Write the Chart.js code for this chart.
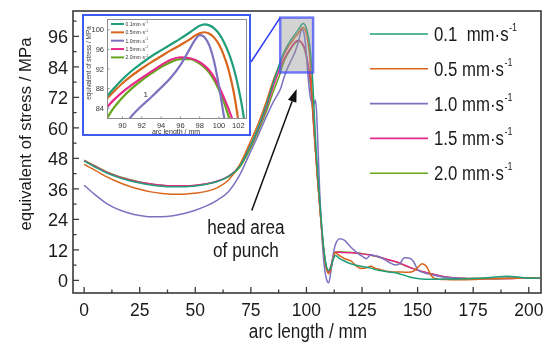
<!DOCTYPE html>
<html><head><meta charset="utf-8">
<script src="https://cdn.jsdelivr.net/npm/chart.js@4.4.1/dist/chart.umd.min.js"></script>
<style>
html,body{margin:0;padding:0;background:#fff;}
#wrap{position:relative;width:550px;height:344px;overflow:hidden;}
#main{position:absolute;left:0;top:0;}
#insetBox{position:absolute;left:82px;top:14px;width:165px;height:118px;border:2px solid #3d5bf2;background:#fff;}
#inset{position:absolute;left:0;top:0;}
</style></head><body>
<div id="wrap">
<canvas id="main" width="550" height="344"></canvas>
<div id="insetBox"><canvas id="inset" width="165" height="118"></canvas></div>
</div>
<script>
// ---------------- data ----------------
const xs = [0,5,10,15,20,25,30,35,40,45,50,55,60,65,70,74,78,82,85,
  88.4,89,90,91,92,93,94,95,96,
  97,97.5,98,98.5,99,99.5,100,100.5,101,101.5,102,102.5,103,103.5,104,104.5,105,
  106,107,108,109,110,111,112,113,
  115,117,120,123,125,127,129,131,133,135,137,140,142,144,146,148,150,152,154,156,158,162,166,170,175,180,185,190,195,200,205];

const s01 = [46.9,44.5,42.3,40.6,39.3,38.3,37.5,37.0,36.8,36.8,37.1,37.8,38.9,40.9,44.8,51.5,59.5,69.0,77.5,
  86.4,87.8,89.9,91.7,93.2,94.6,95.8,97.0,98.2,
  99.5,100.2,100.8,101.1,100.9,100.3,99.2,97.5,95.3,92.3,88.3,83.0,75.0,65.5,57.0,49.5,43.0,
  31.0,20.0,11.0,5.5,3.9,5.0,8.0,9.8,
  8.5,7.6,6.5,5.8,5.4,5.1,4.8,4.2,3.9,3.6,3.3,3.0,2.5,2.0,1.4,1.0,0.7,0.5,0.4,0.4,0.4,0.5,0.5,0.6,0.7,0.9,1.3,1.6,1.3,0.8,0.9];
const s05 = [45.6,43.3,40.8,38.8,37.1,35.8,34.8,34.2,33.9,33.9,34.3,35.0,36.5,39.5,45.5,53.0,61.0,70.5,78.5,
  86.0,87.2,89.1,90.7,92.1,93.4,94.6,95.8,96.9,
  98.1,98.8,99.3,99.5,99.2,98.4,97.0,94.8,91.8,87.5,81.5,74.0,66.0,59.0,52.0,46.0,40.0,
  29.0,18.5,10.0,4.5,2.6,4.5,8.5,10.8,
  9.6,8.6,7.6,5.3,4.6,4.9,5.5,4.7,4.3,3.8,3.5,3.3,3.3,3.2,3.2,3.5,5.0,6.5,5.4,2.0,0.6,0.3,0.2,0.2,0.3,0.5,0.6,0.7,0.8,1.0,1.0];
const s10 = [37.4,33.6,30.3,28.0,26.5,25.5,25.0,25.0,25.4,26.3,27.6,29.3,31.6,35.0,41.5,49.0,56.5,64.5,70.0,
  75.5,77.2,80.0,82.5,84.5,86.3,88.2,90.2,92.8,
  96.2,97.9,98.9,98.5,96.8,93.5,88.5,82.5,77.5,73.5,71.0,69.5,69.0,69.5,71.0,67.0,57.0,
  34.0,17.0,6.0,0.5,-1.0,3.5,10.0,14.0,
  16.4,15.8,13.0,10.7,9.5,8.5,10.1,9.6,9.2,8.2,7.2,6.0,6.5,8.9,8.8,7.6,4.3,3.2,2.7,2.3,1.9,1.2,0.9,0.7,0.6,0.6,0.6,0.7,0.8,0.9,0.9];
const s15 = [47.1,44.8,42.6,40.9,39.6,38.6,37.9,37.4,37.2,37.2,37.4,38.0,39.1,41.0,45.0,51.5,59.0,68.0,76.0,
  84.2,85.5,87.3,88.8,90.2,91.5,92.8,93.9,94.4,
  94.2,93.9,93.4,92.7,91.7,90.3,88.4,86.2,83.8,81.0,77.0,71.5,64.0,58.0,52.0,46.0,40.0,
  29.0,18.5,10.0,4.8,3.3,5.5,9.0,11.1,
  11.0,10.9,10.8,10.6,10.4,10.2,10.0,9.6,9.1,8.6,8.1,7.4,6.8,6.0,5.3,4.6,4.0,3.5,3.0,2.6,2.2,1.4,1.0,0.8,0.7,0.7,0.7,0.7,0.8,0.8,0.9];
const s20 = [47.3,45.0,42.8,41.1,39.8,38.7,37.9,37.4,37.1,37.1,37.3,37.9,39.0,40.8,44.5,50.5,58.0,66.5,74.0,
  82.0,83.8,86.2,88.1,89.7,91.1,92.4,93.4,94.0,
  94.0,93.7,93.1,92.3,91.2,89.7,87.7,85.3,82.3,79.0,75.0,70.0,64.0,58.0,52.0,46.0,40.0,
  29.0,18.5,10.0,4.8,3.3,5.5,9.0,11.1,
  11.2,11.1,11.0,10.8,10.5,10.2,9.9,9.5,9.0,8.5,8.0,7.3,6.6,5.9,5.2,4.6,4.0,3.4,3.0,2.6,2.2,1.4,1.0,0.8,0.7,0.7,0.7,0.8,0.8,0.8,0.9];

const seriesNames = ['0.1  mm·s', '0.5 mm·s', '1.0 mm·s', '1.5 mm·s', '2.0 mm·s'];
const insetNames  = ['0.1mm·s', '0.5mm·s', '1.0mm·s', '1.5mm·s', '2.0mm·s'];
const unitSup = '-1';

const xTicksMain = [0,25,50,75,100,125,150,175,200];
const yTicksMain = [0,12,24,36,48,60,72,84,96];
const xTicksInset = [90,92,94,96,98,100,102];
const yTicksInset = [84,88,92,96,100];
const annotLines = ['head area', 'of punch'];
const insetNote = '1';

// ---------------- styles ----------------
const colors = ['#1f9e7a', '#d9651b', '#7b72c0', '#e7298a', '#66a61e'];
const FONT = '"Liberation Sans", Arial, sans-serif';

function sText(ctx, str, x, y, size, sx, align, color) {
  ctx.save();
  ctx.font = size + 'px ' + FONT;
  ctx.fillStyle = color || '#1a1a1a';
  ctx.textBaseline = 'alphabetic';
  ctx.textAlign = 'left';
  const w = ctx.measureText(str).width * sx;
  const x0 = align === 'center' ? x - w / 2 : (align === 'right' ? x - w : x);
  ctx.translate(x0, y);
  ctx.scale(sx, 1);
  ctx.fillText(str, 0, 0);
  ctx.restore();
  return w;
}

function makeDatasets(width) {
  return [s01, s05, s10, s15, s20].map((arr, i) => ({
    label: seriesNames[i],
    data: xs.map((x, j) => ({ x: x, y: arr[j] })),
    borderColor: colors[i],
    borderWidth: width,
    pointRadius: 0,
    fill: false,
    cubicInterpolationMode: 'monotone'
  }));
}

// ---------------- main chart ----------------
const mainDecor = {
  id: 'mainDecor',
  afterDatasetsDraw(chart) {
    const ctx = chart.ctx, xS = chart.scales.x, yS = chart.scales.y;
    const x1 = xS.getPixelForValue(88.2), x2 = xS.getPixelForValue(103);
    const y1 = yS.getPixelForValue(103.4), y2 = yS.getPixelForValue(81.8);
    ctx.save();
    ctx.fillStyle = 'rgba(150,150,150,0.42)';
    ctx.fillRect(x1, y1, x2 - x1, y2 - y1);
    ctx.strokeStyle = 'rgba(70,80,250,0.75)';
    ctx.lineWidth = 2.5;
    ctx.strokeRect(x1, y1, x2 - x1, y2 - y1);
    ctx.strokeStyle = '#2f3cf0';
    ctx.lineWidth = 1.5;
    ctx.beginPath();
    ctx.moveTo(251, 62);
    ctx.lineTo(x1, y1);
    ctx.stroke();
    ctx.restore();
  },
  afterDraw(chart) {
    const ctx = chart.ctx, xS = chart.scales.x, yS = chart.scales.y, a = chart.chartArea;
    ctx.save();
    ctx.strokeStyle = '#3a3a3a';
    ctx.lineWidth = 1.6;
    ctx.strokeRect(a.left, a.top, a.right - a.left, a.bottom - a.top);
    ctx.lineWidth = 1.3;
    ctx.beginPath();
    xTicksMain.forEach(v => {
      const p = xS.getPixelForValue(v);
      ctx.moveTo(p, a.bottom); ctx.lineTo(p, a.bottom - 6);
      const m = xS.getPixelForValue(v + 12.5);
      if (v + 12.5 < xS.max) { ctx.moveTo(m, a.bottom); ctx.lineTo(m, a.bottom - 3.5); }
    });
    yTicksMain.forEach(v => {
      const p = yS.getPixelForValue(v);
      ctx.moveTo(a.left, p); ctx.lineTo(a.left + 6, p);
      if (v + 6 < yS.max) { const m = yS.getPixelForValue(v + 6); ctx.moveTo(a.left, m); ctx.lineTo(a.left + 3.5, m); }
    });
    ctx.stroke();
    xTicksMain.forEach(v => sText(ctx, String(v), xS.getPixelForValue(v), 316, 19, 0.92, 'center'));
    yTicksMain.forEach(v => sText(ctx, String(v), 68, yS.getPixelForValue(v) + 7, 19, 0.95, 'right'));
    sText(ctx, 'arc length / mm', 308, 338, 19.5, 0.88, 'center');
    ctx.save();
    ctx.translate(31, 134);
    ctx.rotate(-Math.PI / 2);
    sText(ctx, 'equivalent of stress / MPa', 0, 0, 16.8, 1, 'center');
    ctx.restore();
    const ax = xS.getPixelForValue(72.8);
    sText(ctx, annotLines[0], ax, yS.getPixelForValue(18.1), 19.5, 0.88, 'center');
    sText(ctx, annotLines[1], ax, yS.getPixelForValue(9.0), 19.5, 0.88, 'center');
    const sx = xS.getPixelForValue(75.4), sy = yS.getPixelForValue(27.5);
    const tx = xS.getPixelForValue(95.6), ty = yS.getPixelForValue(75.3);
    const ang = Math.atan2(ty - sy, tx - sx);
    const hl = 13, hw = 4.5;
    const bx = tx - hl * Math.cos(ang), by = ty - hl * Math.sin(ang);
    ctx.strokeStyle = '#111'; ctx.fillStyle = '#111'; ctx.lineWidth = 1.5;
    ctx.beginPath(); ctx.moveTo(sx, sy); ctx.lineTo(bx, by); ctx.stroke();
    ctx.beginPath();
    ctx.moveTo(tx, ty);
    ctx.lineTo(bx + hw * Math.sin(ang), by - hw * Math.cos(ang));
    ctx.lineTo(bx - hw * Math.sin(ang), by + hw * Math.cos(ang));
    ctx.closePath(); ctx.fill();
    chart.data.datasets.forEach((ds, i) => {
      const y = 34 + i * 34.8;
      ctx.strokeStyle = ds.borderColor; ctx.lineWidth = 1.6;
      ctx.beginPath(); ctx.moveTo(370, y); ctx.lineTo(428, y); ctx.stroke();
      const w = sText(ctx, ds.label, 434, y + 7, 19.5, 0.86, 'left');
      sText(ctx, unitSup, 434 + w + 0.5, y - 3, 10, 0.9, 'left');
    });
    ctx.restore();
  }
};

new Chart(document.getElementById('main'), {
  type: 'line',
  data: { datasets: makeDatasets(1.5) },
  options: {
    responsive: false,
    animation: false,
    layout: { padding: { left: 0, right: 9, top: 11, bottom: 0 } },
    plugins: { legend: { display: false }, tooltip: { enabled: false } },
    scales: {
      x: {
        type: 'linear', min: -5, max: 205.5,
        afterFit(s) { s.height = 51; },
        afterBuildTicks(s) { s.ticks = xTicksMain.map(v => ({ value: v })); },
        grid: { display: false, drawTicks: false },
        border: { display: false },
        ticks: { display: false }
      },
      y: {
        type: 'linear', min: -5, max: 106,
        afterFit(s) { s.width = 73; },
        afterBuildTicks(s) { s.ticks = yTicksMain.map(v => ({ value: v })); },
        grid: { display: false, drawTicks: false },
        border: { display: false },
        ticks: { display: false }
      }
    }
  },
  plugins: [mainDecor]
});

// ---------------- inset chart ----------------
const insetDecor = {
  id: 'insetDecor',
  afterDraw(chart) {
    const ctx = chart.ctx, xS = chart.scales.x, yS = chart.scales.y, a = chart.chartArea;
    ctx.save();
    ctx.strokeStyle = '#8c8c8c';
    ctx.lineWidth = 1;
    ctx.strokeRect(a.left + 0.5, a.top + 0.5, a.right - a.left - 1, a.bottom - a.top - 1);
    ctx.beginPath();
    xTicksInset.forEach(v => {
      const p = xS.getPixelForValue(v);
      ctx.moveTo(p, a.bottom); ctx.lineTo(p, a.bottom - 2.5);
    });
    yTicksInset.forEach(v => {
      const p = yS.getPixelForValue(v);
      ctx.moveTo(a.left, p); ctx.lineTo(a.left + 2.5, p);
    });
    ctx.stroke();
    xTicksInset.forEach(v => sText(ctx, String(v), xS.getPixelForValue(v), 112, 7.5, 1, 'center', '#333'));
    yTicksInset.forEach(v => sText(ctx, String(v), 20, yS.getPixelForValue(v) + 2.7, 7.5, 1, 'right', '#333'));
    sText(ctx, 'arc length / mm', 92, 118, 7, 1, 'center', '#333');
    ctx.save();
    ctx.translate(7, 47);
    ctx.rotate(-Math.PI / 2);
    sText(ctx, 'equivalent of stress / MPa', 0, 0, 6.4, 1, 'center', '#333');
    ctx.restore();
    sText(ctx, insetNote, xS.getPixelForValue(92.4), yS.getPixelForValue(86.9) + 3, 8, 1, 'center', '#333');
    chart.data.datasets.forEach((ds, i) => {
      const y = 8 + i * 8.35;
      ctx.strokeStyle = ds.borderColor; ctx.lineWidth = 2;
      ctx.beginPath(); ctx.moveTo(27, y); ctx.lineTo(40, y); ctx.stroke();
      const w = sText(ctx, insetNames[i], 41.5, y + 1.8, 5, 1, 'left', '#333');
      sText(ctx, unitSup, 41.5 + w + 0.3, y - 0.8, 3, 1, 'left', '#333');
    });
    ctx.restore();
  }
};

new Chart(document.getElementById('inset'), {
  type: 'line',
  data: { datasets: makeDatasets(2.2) },
  options: {
    responsive: false,
    animation: false,
    layout: { padding: { left: 0, right: 2, top: 3, bottom: 0 } },
    plugins: { legend: { display: false }, tooltip: { enabled: false } },
    scales: {
      x: {
        type: 'linear', min: 88.4, max: 102.9,
        afterFit(s) { s.height = 15; },
        afterBuildTicks(s) { s.ticks = xTicksInset.map(v => ({ value: v })); },
        grid: { display: false, drawTicks: false },
        border: { display: false },
        ticks: { display: false }
      },
      y: {
        type: 'linear', min: 81.8, max: 102.2,
        afterFit(s) { s.width = 23; },
        afterBuildTicks(s) { s.ticks = yTicksInset.map(v => ({ value: v })); },
        grid: { display: false, drawTicks: false },
        border: { display: false },
        ticks: { display: false }
      }
    }
  },
  plugins: [insetDecor]
});
</script>
</body></html>
